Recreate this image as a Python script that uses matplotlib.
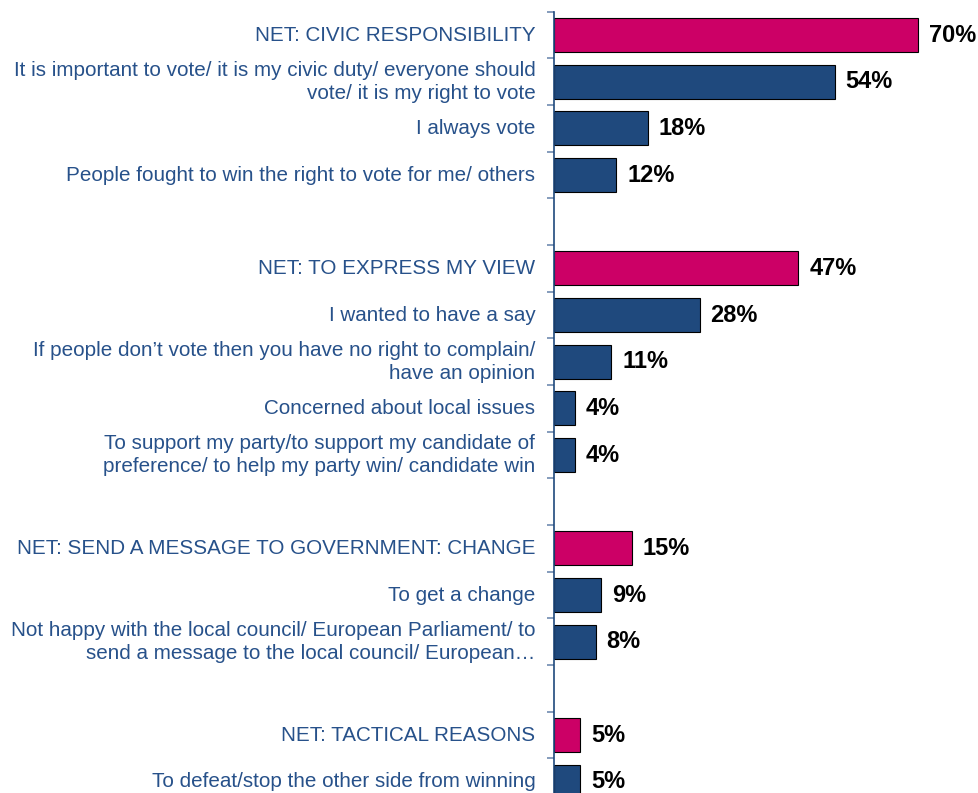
import matplotlib.pyplot as plt

# reasons for voting, grouped under NET headings (None = gap row)
labels = [
    'NET: CIVIC RESPONSIBILITY',
    'It is important to vote/ it is my civic duty/ everyone should\nvote/ it is my right to vote',
    'I always vote',
    'People fought to win the right to vote for me/ others',
    None,
    'NET: TO EXPRESS MY VIEW',
    'I wanted to have a say',
    'If people don\u2019t vote then you have no right to complain/\nhave an opinion',
    'Concerned about local issues',
    'To support my party/to support my candidate of\npreference/ to help my party win/ candidate win',
    None,
    'NET: SEND A MESSAGE TO GOVERNMENT: CHANGE',
    'To get a change',
    'Not happy with the local council/ European Parliament/ to\nsend a message to the local council/ European\u2026',
    None,
    'NET: TACTICAL REASONS',
    'To defeat/stop the other side from winning',
]
values = [70, 54, 18, 12, None, 47, 28, 11, 4, 4, None, 15, 9, 8, None, 5, 5]
is_net = [True, False, False, False, False, True, False, False, False, False,
          False, True, False, False, False, True, False]

PINK = '#CC0066'
NAVY = '#1F497D'
TEXT = '#27518A'

plt.rcParams['font.family'] = ['Liberation Sans', 'DejaVu Sans']

fig = plt.figure(figsize=(9.79, 7.93), dpi=100)
ax = fig.add_axes([554 / 979, -12 / 793, 416 / 979, 793.3 / 793])

for i, (lab, v) in enumerate(zip(labels, values)):
    if v is None:
        continue
    ax.barh(i, v, height=0.73, color=PINK if is_net[i] else NAVY,
            edgecolor='black', linewidth=0.8)
    ax.text(v + 2.1, i, f'{v}%', va='center', ha='left', fontsize=17,
            fontweight='bold', color='black')
    ax.text(-3.6, i, lab, va='center', ha='right', fontsize=14.9,
            color=TEXT, linespacing=1.25)

n = len(labels)
ax.set_ylim(n - 0.5, -0.5)
ax.set_xlim(0, 80)
ax.set_yticks([k - 0.5 for k in range(n + 1)])
ax.set_yticklabels([])
ax.set_xticks([])
for s in ['top', 'right', 'bottom']:
    ax.spines[s].set_visible(False)
ax.spines['left'].set_color(NAVY)
ax.spines['left'].set_linewidth(1.2)
ax.tick_params(axis='y', length=5, width=1.2, color='#6F8BB0', direction='out')

fig.savefig('out.png', dpi=100)
